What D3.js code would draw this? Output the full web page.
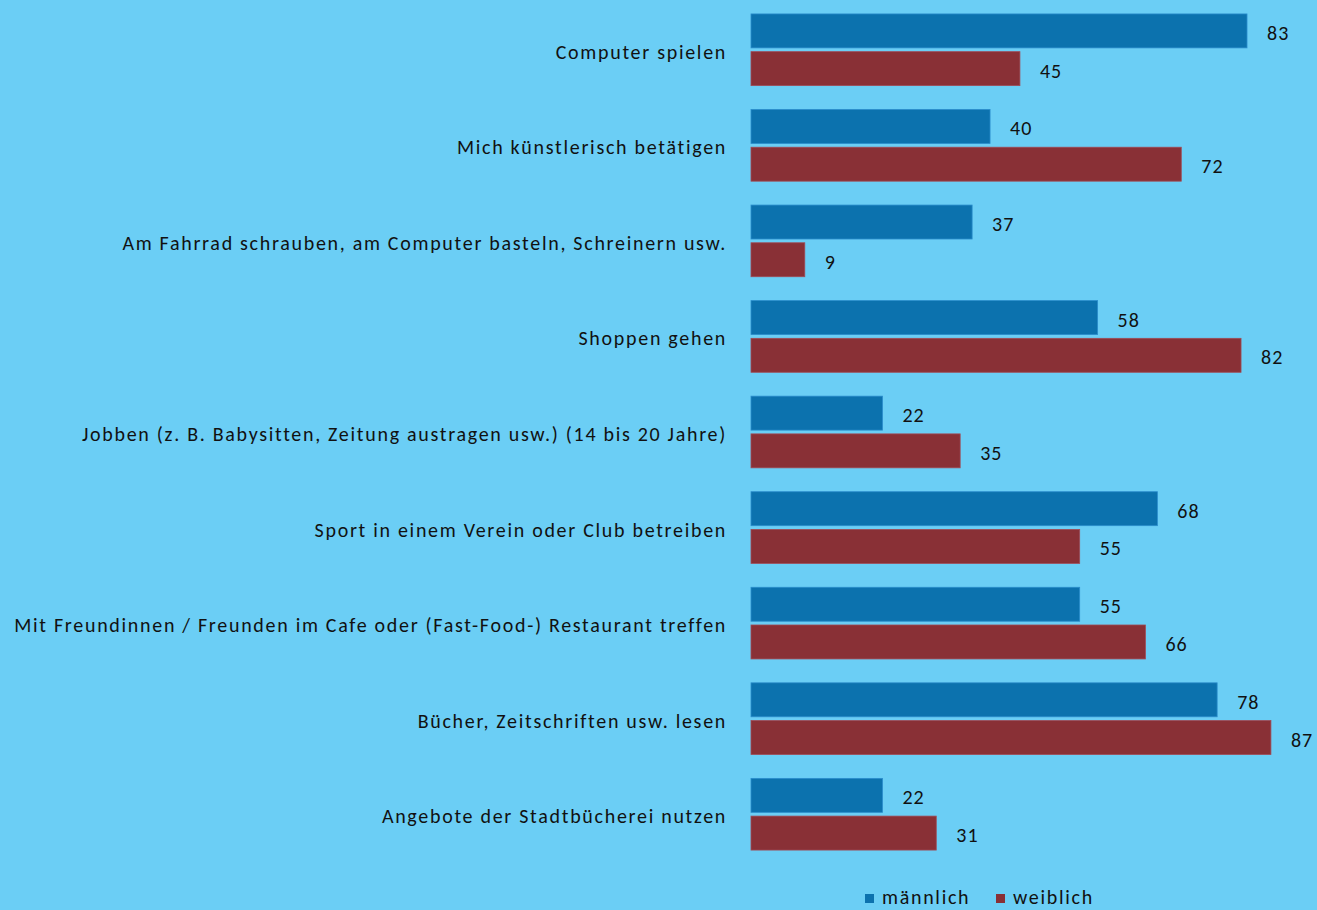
<!DOCTYPE html>
<html>
<head>
<meta charset="utf-8">
<script src="https://cdn.jsdelivr.net/npm/d3@7"></script>
<style>
  html, body { margin: 0; padding: 0; background: #6bcef5; }
  svg { display: block; }
</style>
</head>
<body>
<svg id="chart"></svg>
<script>
const categories = [
    "Computer spielen",
    "Mich künstlerisch betätigen",
    "Am Fahrrad schrauben, am Computer basteln, Schreinern usw.",
    "Shoppen gehen",
    "Jobben (z. B. Babysitten, Zeitung austragen usw.) (14 bis 20 Jahre)",
    "Sport in einem Verein oder Club betreiben",
    "Mit Freundinnen / Freunden im Cafe oder (Fast-Food-) Restaurant treffen",
    "Bücher, Zeitschriften usw. lesen",
    "Angebote der Stadtbücherei nutzen"
];
const seriesNames = ["männlich", "weiblich"];
const maennlich = [83, 40, 37, 58, 22, 68, 55, 78, 22];
const weiblich = [45, 72, 9, 82, 35, 55, 66, 87, 31];

const data = categories.map((c, i) => ({ cat: c, values: [
    { key: "männlich", value: maennlich[i] },
    { key: "weiblich", value: weiblich[i] }
]}));

const width = 1317, height = 910;
const font = "Carlito, 'Open Sans', sans-serif";

const svg = d3.select("#chart")
    .attr("width", width)
    .attr("height", height);

svg.append("rect").attr("width", width).attr("height", height).attr("fill", "#6bcef5");

const y = d3.scaleBand()
    .domain(categories)
    .range([2, 862])
    .paddingInner(0.25)
    .paddingOuter(0.125);

const ySub = d3.scaleBand()
    .domain(seriesNames)
    .range([0, y.bandwidth()])
    .paddingInner(0.1);

const x = d3.scaleLinear()
    .domain([0, 100])
    .range([751, 751 + 597.6]);

const color = d3.scaleOrdinal()
    .domain(seriesNames)
    .range(["#0c72ae", "#893036"]);

const groups = svg.selectAll(".grp")
    .data(data)
    .enter().append("g")
    .attr("class", "grp")
    .attr("transform", d => `translate(0,${y(d.cat)})`);

groups.selectAll("rect")
    .data(d => d.values)
    .enter().append("rect")
    .attr("x", x(0))
    .attr("y", d => ySub(d.key))
    .attr("width", d => x(d.value) - x(0))
    .attr("height", ySub.bandwidth())
    .attr("fill", d => color(d.key))
    .attr("stroke", d => d.key === "männlich" ? "#2a8ccb" : "#a04a55")
    .attr("stroke-width", 0.8);

groups.selectAll(".val")
    .data(d => d.values)
    .enter().append("text")
    .attr("class", "val")
    .attr("x", d => x(d.value) + 20)
    .attr("y", d => ySub(d.key) + ySub.bandwidth() / 2)
    .attr("dy", "0.45em")
    .style("font-family", font)
    .style("font-size", "20px")
    .style("letter-spacing", "1px")
    .style("fill", "#111")
    .text(d => d.value);

// category labels
svg.append("g")
    .attr("transform", "translate(727,0)")
    .call(d3.axisLeft(y).tickSize(0).tickPadding(0))
    .call(g => g.select(".domain").remove())
    .selectAll("text")
    .attr("dy", "0.45em")
    .style("font-family", font)
    .style("font-size", "20px")
    .style("letter-spacing", "1.7px")
    .style("fill", "#111");

// legend
const legend = svg.append("g")
    .attr("transform", "translate(865,898)");

const li = legend.selectAll(".li")
    .data(seriesNames)
    .enter().append("g")
    .attr("transform", (d, i) => `translate(${i * 131},0)`);

li.append("rect")
    .attr("x", 0).attr("y", -4)
    .attr("width", 9).attr("height", 9)
    .attr("fill", d => color(d));

li.append("text")
    .attr("x", 17)
    .attr("y", 0)
    .attr("dy", "0.3em")
    .style("font-family", font)
    .style("font-size", "20px")
    .style("letter-spacing", "1.7px")
    .style("fill", "#111")
    .text(d => d);
</script>
</body>
</html>
